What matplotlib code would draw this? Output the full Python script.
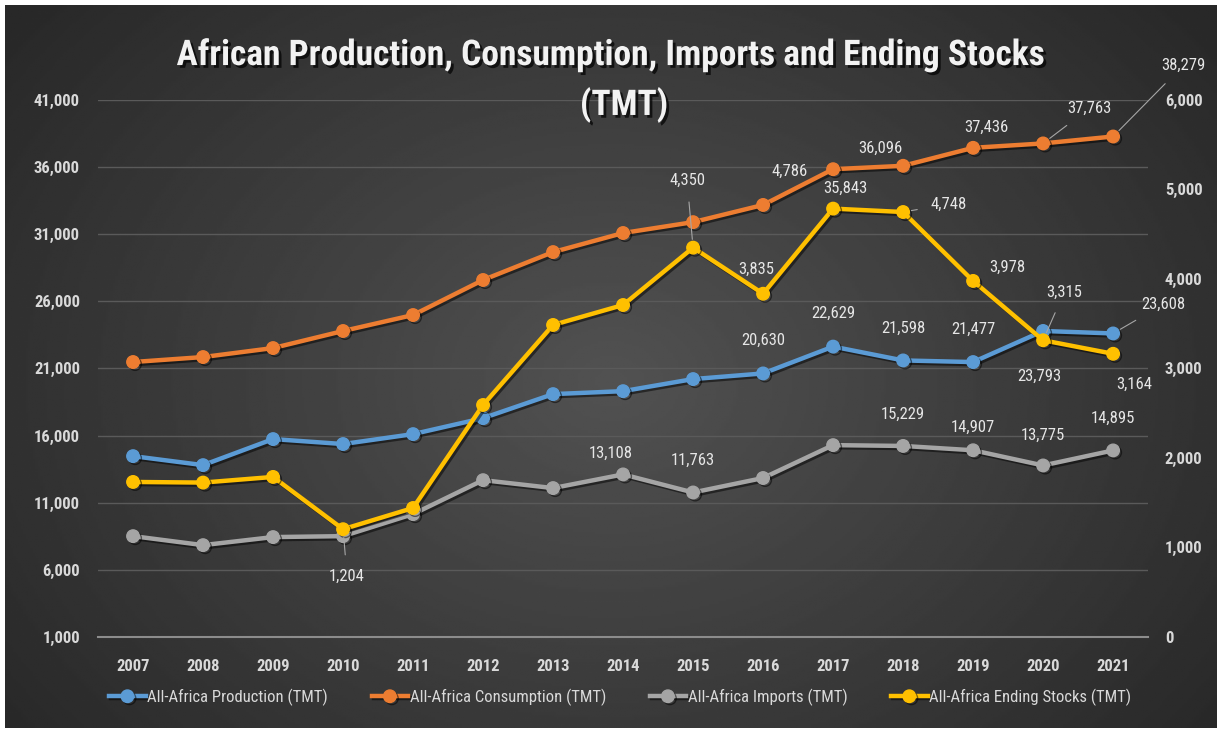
import numpy as np
import matplotlib
matplotlib.use("Agg")
import matplotlib.pyplot as plt
import matplotlib.patheffects as pe
from matplotlib.ticker import FuncFormatter

plt.rcParams['font.family'] = ['Roboto Condensed', 'Open Sans Condensed', 'Lato', 'DejaVu Sans']

years = ['2007', '2008', '2009', '2010', '2011', '2012', '2013', '2014',
         '2015', '2016', '2017', '2018', '2019', '2020', '2021']

production = [14470, 13800, 15740, 15370, 16110, 17300, 19090, 19310,
              20210, 20630, 22629, 21598, 21477, 23793, 23608]
consumption = [21480, 21850, 22520, 23790, 24980, 27590, 29670, 31090,
               31900, 33180, 35843, 36096, 37436, 37763, 38279]
imports = [8510, 7840, 8440, 8510, 10150, 12680, 12090, 13108,
           11763, 12840, 15290, 15229, 14907, 13775, 14895]
ending_stocks = [1732, 1725, 1788, 1204, 1441, 2592, 3486, 3709,
                 4350, 3835, 4786, 4748, 3978, 3315, 3164]

# which points get a value label: index -> (dx, dy) in pixels, leader line?
prod_labels = {9: (0, 33, False), 10: (0, 33, False), 11: (0, 32, False),
               12: (0, 33, False), 13: (-4, -45, False), 14: (50, 29, True)}
cons_labels = {10: (12, -19, False), 11: (-23, 17, False), 12: (13, 20, False),
               13: (46, 35, True), 14: (70, 71, True)}
imp_labels = {7: (-12, 21, False), 8: (0, 32, False), 11: (0, 32, False),
              12: (0, 23, False), 13: (0, 30, False), 14: (0, 32, False)}
stock_labels = {3: (4, -47, True), 8: (-6, 67, True), 9: (-7, 24, False),
                10: (-43, 37, False), 11: (46, 8, True), 12: (34, 14, False),
                13: (21, 48, True), 14: (21, -31, False)}

BLUE = '#5b9bd5'
ORANGE = '#ed7d31'
GRAY = '#a5a5a5'
YELLOW = '#ffc000'
TXT = '#d9d9d9'

fig = plt.figure(figsize=(12.21, 7.34), dpi=100, facecolor='white')

# dark radial background panel
bg = fig.add_axes([0.004, 0.008, 0.992, 0.985])
yy, xx = np.mgrid[0:1:300j, 0:1:500j]
r = np.sqrt(((xx - 0.5) / 0.62) ** 2 + ((yy - 0.52) / 0.8) ** 2)
shade = np.clip(1 - r, 0, 1)
bg.imshow(0.16 + 0.16 * shade, cmap='gray', vmin=0, vmax=1, aspect='auto',
          extent=[0, 1, 0, 1])
bg.axis('off')

ax = fig.add_axes([0.0803, 0.1322, 0.86, 0.7316])
ax.patch.set_alpha(0)
ax2 = ax.twinx()
ax2.patch.set_alpha(0)

x = np.arange(len(years))
shadow = [pe.SimpleLineShadow(offset=(1.5, -1.5), alpha=0.5, shadow_color='black'),
          pe.Normal()]
style = dict(lw=3.2, marker='o', ms=9, path_effects=shadow)
ax.plot(x, imports, color=GRAY, label='All-Africa Imports (TMT)', **style)
ax.plot(x, production, color=BLUE, label='All-Africa Production (TMT)', **style)
ax.plot(x, consumption, color=ORANGE, label='All-Africa Consumption (TMT)', **style)
ax2.plot(x, ending_stocks, color=YELLOW, label='All-Africa Ending Stocks (TMT)', **style)

ax.set_xlim(-0.5, len(years) - 0.5)
ax.set_ylim(1000, 41000)
ax.set_yticks(np.arange(1000, 41001, 5000))
ax2.set_ylim(0, 6000)
ax2.set_yticks(np.arange(0, 6001, 1000))
fmt = FuncFormatter(lambda v, p: f'{v:,.0f}')
ax.yaxis.set_major_formatter(fmt)
ax2.yaxis.set_major_formatter(fmt)
ax.set_xticks(x)
ax.set_xticklabels(years)

ax.grid(axis='y', color='#5a5a5a', lw=1)
ax.set_axisbelow(True)
for a in (ax, ax2):
    for s in a.spines.values():
        s.set_visible(False)
    a.tick_params(length=0, colors=TXT, labelsize=12)
    for t in a.get_yticklabels() + a.get_xticklabels():
        t.set_fontweight('bold')
ax.spines['bottom'].set_visible(True)
ax.spines['bottom'].set_color('#8c8c8c')
ax.spines['bottom'].set_linewidth(1.5)
ax.tick_params(axis='x', pad=16)
ax.tick_params(axis='y', pad=13)
ax2.tick_params(axis='y', pad=12)


def put_labels(axis, values, labels):
    for i, (dx, dy, leader) in labels.items():
        axis.annotate(f'{values[i]:,}', xy=(i, values[i]), xytext=(dx, dy),
                      textcoords='offset pixels', ha='center', va='center',
                      color='#e6e6e6', fontsize=12,
                      arrowprops=dict(arrowstyle='-', color='#a6a6a6', lw=0.8,
                                      shrinkA=8, shrinkB=6) if leader else None)


put_labels(ax, production, prod_labels)
put_labels(ax, consumption, cons_labels)
put_labels(ax, imports, imp_labels)
put_labels(ax2, ending_stocks, stock_labels)

title_fx = [pe.withSimplePatchShadow(offset=(2, -2), alpha=0.7, shadow_rgbFace='black')]
fig.text(0.5, 0.925, 'African Production, Consumption, Imports and Ending Stocks',
         ha='center', va='center', color='#f2f2f2', fontsize=25.5, fontweight='bold',
         path_effects=title_fx)
fig.text(0.511, 0.857, '(TMT)', ha='center', va='center', color='#f2f2f2',
         fontsize=25.5, fontweight='bold', path_effects=title_fx)

h1, l1 = ax.get_legend_handles_labels()
h2, l2 = ax2.get_legend_handles_labels()
order = [1, 2, 0]
handles = [h1[i] for i in order] + h2
names = [l1[i] for i in order] + l2
leg = fig.legend(handles, names, loc='center', bbox_to_anchor=(0.508, 0.05), ncol=4,
                 frameon=False, fontsize=12, handlelength=2.2, handletextpad=0.1,
                 columnspacing=2.6)
for t in leg.get_texts():
    t.set_color(TXT)

fig.savefig('out.png', dpi=100, facecolor=fig.get_facecolor())
